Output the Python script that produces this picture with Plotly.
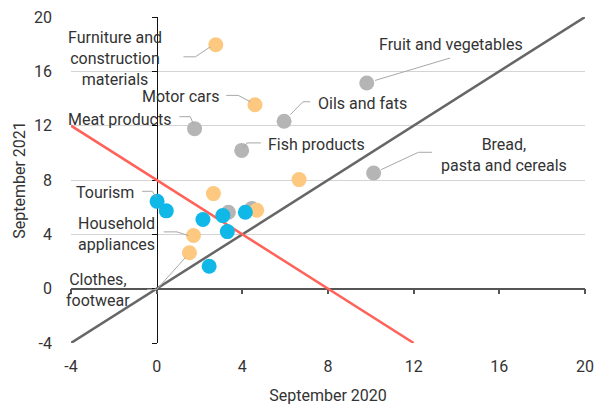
import plotly.graph_objects as go

# ---- data ----
orange_x = [2.76, 4.59, 6.65, 2.65, 4.67, 1.72, 1.53]
orange_y = [17.96, 13.54, 8.03, 7.00, 5.77, 3.91, 2.64]
gray_x = [1.77, 5.95, 3.97, 9.81, 10.13, 3.35, 4.44]
gray_y = [11.78, 12.32, 10.18, 15.14, 8.52, 5.63, 5.90]
blue_x = [0.02, 0.45, 2.16, 3.09, 4.14, 3.30, 2.45]
blue_y = [6.43, 5.73, 5.09, 5.38, 5.63, 4.20, 1.65]

diag_x = [-4, 20]
diag_y = [-4, 20]
red_x = [-4, 12]
red_y = [12, -4]

tick_vals = [-4, 0, 4, 8, 12, 16, 20]
tick_text = ["-4", "0", "4", "8", "12", "16", "20"]

labels = [
    ("Furniture and<br>construction<br>materials", -1.93, 16.93,
     [(1.25, 17.07), (1.81, 17.07), (2.51, 17.81)]),
    ("Motor cars", 1.11, 14.13, [(3.25, 14.23), (3.81, 14.23), (4.37, 13.76)]),
    ("Meat products", -1.74, 12.44, [(1.06, 12.66), (1.57, 12.66), (1.71, 12.14)]),
    ("Fish products", 7.45, 10.60, [(4.87, 10.73), (4.22, 10.73), (4.04, 10.35)]),
    ("Oils and fats", 9.60, 13.62, [(7.17, 13.76), (6.83, 13.76), (6.24, 12.81)]),
    ("Fruit and vegetables", 13.75, 17.96, [(13.70, 16.98), (10.20, 15.33)]),
    ("Bread,<br>pasta and cereals", 16.22, 9.87,
     [(12.85, 10.04), (12.22, 10.04), (10.48, 8.76)]),
    ("Tourism", -2.39, 7.07, [(-0.68, 7.17), (-0.21, 7.17), (-0.01, 6.71)]),
    ("Household<br>appliances", -1.88, 4.06, [(0.33, 4.18), (0.95, 4.18), (1.48, 3.91)]),
    ("Clothes,<br>footwear", -2.76, -0.13, [(-0.45, -0.06), (0.0, -0.06), (1.34, 2.29)]),
]

FONT = "Roboto"
TXT = "#333333"

fig = go.Figure()
fig.add_trace(go.Scatter(x=diag_x, y=diag_y, mode="lines",
                         line=dict(color="#666666", width=2.5), hoverinfo="skip",
                         showlegend=False))
fig.add_trace(go.Scatter(x=red_x, y=red_y, mode="lines",
                         line=dict(color="#FF6259", width=2.5), hoverinfo="skip",
                         showlegend=False))
for xs, ys, col in [(gray_x, gray_y, "#B5B5B5"), (orange_x, orange_y, "#FDC880"),
                    (blue_x, blue_y, "#10B8E8")]:
    fig.add_trace(go.Scatter(x=xs, y=ys, mode="markers", xaxis="x2", yaxis="y2",
                             marker=dict(color=col, size=15, line=dict(width=0)),
                             showlegend=False))

shapes = []
annotations = []
for text, tx, ty, pts in labels:
    path = "M " + " L ".join(f"{px},{py}" for px, py in pts)
    shapes.append(dict(type="path", path=path, xref="x", yref="y",
                       line=dict(color="#A8A8A8", width=1), layer="above"))
    annotations.append(dict(text=text, x=tx, y=ty, xref="x", yref="y",
                            showarrow=False, xanchor="center", yanchor="middle",
                            font=dict(family=FONT, size=16, color=TXT)))

pos0 = 4 / 24
fig.update_layout(
    width=596, height=405,
    margin=dict(l=71, r=11, t=17, b=62),
    paper_bgcolor="white", plot_bgcolor="white",
    font=dict(family=FONT, size=16, color=TXT),
    shapes=shapes, annotations=annotations,
    xaxis=dict(range=[-4, 20], tickvals=tick_vals, ticktext=tick_text,
               showgrid=False, zeroline=False, showline=False, ticks="",
               ticklabelstandoff=12, automargin=False,
               title=dict(text="September 2020", standoff=15,
                          font=dict(family=FONT, size=16, color=TXT))),
    yaxis=dict(range=[-4, 20], tickvals=tick_vals, ticktext=tick_text,
               showgrid=True, gridcolor="#D4D4D4", gridwidth=1,
               zeroline=False, showline=False, ticks="",
               ticklabelstandoff=18, automargin=False,
               title=dict(text="September 2021", standoff=4,
                          font=dict(family=FONT, size=16, color=TXT))),
    xaxis2=dict(range=[-4, 20], tickvals=tick_vals, overlaying="x", anchor="free",
                position=pos0, side="bottom", showline=True, linecolor="#555555",
                linewidth=1.5, ticks="outside", ticklen=5, tickcolor="#555555",
                tickwidth=1.5, showticklabels=False, showgrid=False, zeroline=False,
                layer="below traces", automargin=False),
    yaxis2=dict(range=[-4, 20], tickvals=tick_vals, overlaying="y", anchor="free",
                position=pos0, side="left", showline=True, linecolor="#111111",
                linewidth=1.2, ticks="outside", ticklen=5, tickcolor="#111111",
                tickwidth=1.2, showticklabels=False, showgrid=False, zeroline=False,
                layer="below traces", automargin=False),
)

fig.write_html("out.html", config={"displayModeBar": False},
               post_script="document.body.style.margin='0';document.body.style.overflow='hidden';")
